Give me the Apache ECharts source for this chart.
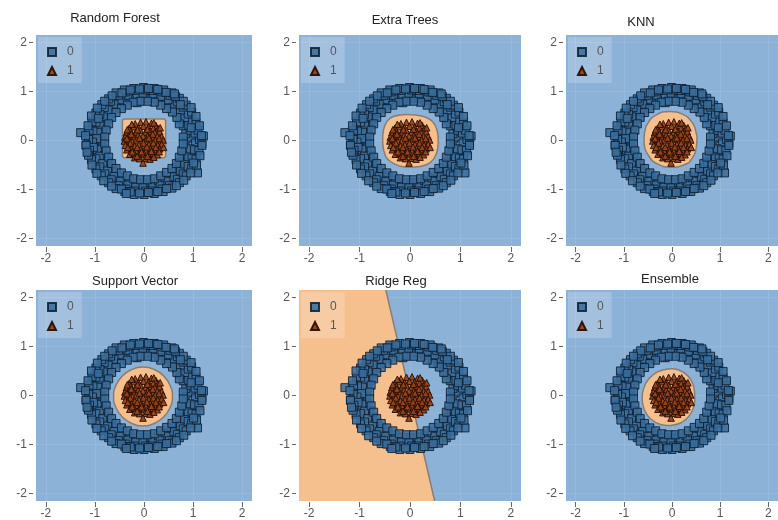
<!DOCTYPE html>
<html>
<head>
<meta charset="utf-8">
<script src="https://cdn.jsdelivr.net/npm/echarts@6/dist/echarts.min.js"></script>
<style>
html, body { margin: 0; padding: 0; background: #fff; }
#chart { width: 778px; height: 520px; }
</style>
</head>
<body>
<div id="chart"></div>
<script>
// panel titles, in grid order
var titles = ['Random Forest', 'Extra Trees', 'KNN', 'Support Vector', 'Ridge Reg', 'Ensemble'];
var tickValues = [-2, -1, 0, 1, 2];
var classNames = ['0', '1'];

// outer ring (class 0)
var class0 = [
  [0.86,0.03],[0.96,0.07],[1.05,-0.05],[1.13,0.02],[1.18,-0.06],[1.21,0.09],
  [0.85,0.14],[0.94,0.20],[1.04,0.15],[1.10,0.21],
  [0.80,0.30],[0.91,0.31],[0.98,0.38],[1.06,0.36],
  [0.74,0.44],[0.83,0.47],[0.90,0.54],[0.97,0.58],
  [0.66,0.56],[0.74,0.62],[0.80,0.68],[0.86,0.72],
  [0.55,0.65],[0.60,0.74],[0.68,0.79],[0.72,0.86],
  [0.44,0.76],[0.49,0.83],[0.53,0.92],[0.57,0.97],
  [0.29,0.82],[0.34,0.90],[0.37,0.99],[0.40,1.03],
  [0.14,0.86],[0.18,0.95],[0.17,1.02],[0.21,1.06],
  [0.02,0.85],[-0.03,0.96],[0.03,1.03],[-0.01,1.08],
  [-0.14,0.77],[-0.18,0.94],[-0.17,1.02],[-0.21,1.06],
  [-0.30,0.83],[-0.33,0.92],[-0.37,0.99],[-0.40,1.03],
  [-0.43,0.76],[-0.49,0.83],[-0.52,0.92],[-0.57,0.97],
  [-0.56,0.66],[-0.61,0.74],[-0.68,0.80],[-0.72,0.85],
  [-0.66,0.55],[-0.73,0.62],[-0.81,0.67],[-0.86,0.73],
  [-0.75,0.43],[-0.83,0.48],[-0.90,0.53],[-0.98,0.56],
  [-0.81,0.29],[-0.90,0.33],[-0.98,0.37],[-1.06,0.38],
  [-0.85,0.15],[-0.94,0.17],[-1.04,0.19],[-1.12,0.21],[-1.29,0.16],
  [-0.86,-0.02],[-0.96,0.04],[-1.05,-0.03],[-1.13,0.02],[-1.18,-0.09],
  [-0.85,-0.15],[-0.95,-0.18],[-1.03,-0.14],[-1.11,-0.20],
  [-0.80,-0.30],[-0.90,-0.32],[-0.98,-0.37],[-1.07,-0.39],
  [-0.74,-0.43],[-0.84,-0.47],[-0.90,-0.54],[-0.98,-0.58],
  [-0.65,-0.56],[-0.74,-0.62],[-0.80,-0.68],[-0.87,-0.72],
  [-0.55,-0.66],[-0.61,-0.73],[-0.67,-0.80],[-0.72,-0.86],
  [-0.43,-0.75],[-0.48,-0.83],[-0.52,-0.92],[-0.57,-0.98],
  [-0.29,-0.81],[-0.33,-0.91],[-0.37,-0.99],[-0.39,-1.04],
  [-0.15,-0.85],[-0.17,-0.95],[-0.19,-1.03],[-0.20,-1.10],
  [0.02,-0.86],[-0.02,-0.96],[0.03,-1.03],[0.00,-1.10],
  [0.14,-0.85],[0.18,-0.94],[0.17,-1.03],[0.21,-1.08],
  [0.29,-0.82],[0.33,-0.91],[0.37,-0.99],[0.39,-1.04],
  [0.43,-0.76],[0.49,-0.83],[0.52,-0.92],[0.57,-0.97],
  [0.56,-0.66],[0.61,-0.74],[0.68,-0.79],[0.72,-0.86],
  [0.66,-0.55],[0.74,-0.62],[0.80,-0.68],[0.86,-0.72],
  [0.74,-0.44],[0.83,-0.48],[0.90,-0.53],[0.97,-0.57],[1.09,-0.66],
  [0.81,-0.29],[0.90,-0.33],[0.98,-0.36],[1.06,-0.38],
  [0.85,-0.15],[0.94,-0.17],[1.03,-0.19],[1.12,-0.20],
  [0.80,0.07],[1.17,0.10],[0.96,0.26],[1.13,0.30],[0.72,0.34],[1.06,0.49],
  [0.67,0.47],[0.96,0.67],[0.58,0.58],[0.80,0.80],[0.46,0.65],[0.64,0.90],
  [0.34,0.72],[0.45,0.98],[0.21,0.78],[0.28,1.04],[0.07,0.80],[0.09,1.06],
  [-0.08,0.80],[-0.09,1.05],[-0.22,0.78],[-0.28,1.03],[-0.34,0.72],[-0.45,0.97],
  [-0.46,0.65],[-0.65,0.91],[-0.57,0.57],[-0.80,0.80],[-0.66,0.47],[-0.95,0.66],
  [-0.72,0.34],[-1.07,0.50],[-0.77,0.21],[-1.14,0.30],[-0.80,0.07],[-1.19,0.10],
  [-0.80,-0.07],[-1.18,-0.10],[-0.77,-0.21],[-1.13,-0.30],[-0.72,-0.34],[-1.06,-0.50],
  [-0.66,-0.47],[-0.96,-0.67],[-0.57,-0.57],[-0.82,-0.82],[-0.46,-0.66],[-0.66,-0.93],
  [-0.34,-0.72],[-0.46,-0.99],[-0.21,-0.78],[-0.28,-1.05],[-0.07,-0.80],[-0.09,-1.07],
  [0.07,-0.80],[0.09,-1.06],[0.21,-0.78],[0.28,-1.04],[0.34,-0.72],[0.46,-0.98],
  [0.46,-0.65],[0.66,-0.92],[0.57,-0.57],[0.81,-0.81],[0.66,-0.47],[0.95,-0.66],
  [0.72,-0.34],[1.07,-0.50],[0.77,-0.21],[1.14,-0.31],[0.80,-0.07],[1.18,-0.10],
  [0.62,0.95],[-0.93,0.45],[1.01,-0.46],[-0.36,-1.08],[0.74,0.73],[-1.16,-0.24]
];

// inner cluster (class 1)
var class1 = [
  [-0.18,0.34],[-0.07,0.37],[0.04,0.38],[0.15,0.35],[0.24,0.31],
  [-0.30,0.25],[-0.21,0.28],[-0.11,0.26],[-0.01,0.29],[0.09,0.27],[0.19,0.25],[0.29,0.24],
  [-0.36,0.16],[-0.27,0.19],[-0.17,0.17],[-0.07,0.20],[0.03,0.17],[0.12,0.19],[0.22,0.16],[0.32,0.18],
  [-0.39,0.07],[-0.30,0.10],[-0.21,0.08],[-0.12,0.11],[-0.02,0.09],[0.08,0.10],[0.17,0.07],[0.27,0.09],[0.36,0.08],
  [-0.40,-0.01],[-0.32,0.02],[-0.24,-0.02],[-0.15,0.01],[-0.05,-0.01],[0.05,0.02],[0.14,-0.01],[0.23,0.01],[0.32,-0.02],[0.39,0.01],
  [-0.38,-0.10],[-0.29,-0.08],[-0.19,-0.11],[-0.10,-0.08],[0.00,-0.10],[0.10,-0.08],[0.19,-0.11],[0.28,-0.09],[0.36,-0.07],
  [-0.35,-0.19],[-0.25,-0.17],[-0.16,-0.20],[-0.06,-0.17],[0.04,-0.19],[0.13,-0.16],[0.23,-0.19],[0.32,-0.17],
  [-0.29,-0.28],[-0.20,-0.26],[-0.10,-0.29],[0.00,-0.27],[0.10,-0.28],[0.19,-0.26],[0.27,-0.29],
  [-0.19,-0.35],[-0.09,-0.37],[0.02,-0.36],[0.12,-0.38],[0.20,-0.34],
  [-0.25,0.33],[0.20,0.36],[-0.34,0.22],[0.33,0.26],[-0.13,0.22],[0.07,0.23],[-0.26,0.13],[0.18,0.13],
  [-0.35,0.04],[-0.09,0.05],[0.10,0.05],[0.31,0.04],[-0.28,-0.05],[-0.01,-0.05],[0.19,-0.05],
  [-0.33,-0.14],[-0.14,-0.14],[0.06,-0.13],[0.24,-0.14],[-0.24,-0.23],[-0.05,-0.23],[0.15,-0.22],
  [0.31,-0.23],[-0.14,-0.32],[0.07,-0.32],[-0.02,-0.46],[0.40,-0.14]
];

// class-1 decision regions (boundary vertices)
var rfRegion = [[-0.44,0.41],[-0.41,0.44],[0.41,0.44],[0.44,0.41],[0.44,-0.32],[0.41,-0.35],[0.05,-0.35],
  [0.03,-0.49],[-0.04,-0.49],[-0.06,-0.35],[-0.41,-0.35],[-0.44,-0.32]];
var etRegion = [[-0.50,0.30],[-0.40,0.45],[-0.20,0.52],[0.10,0.52],[0.30,0.48],[0.45,0.38],[0.54,0.20],
  [0.56,-0.05],[0.52,-0.28],[0.40,-0.45],[0.20,-0.53],[-0.10,-0.54],[-0.30,-0.48],[-0.46,-0.36],[-0.53,-0.15],[-0.54,0.10]];
var knnRegion = [[-0.42,0.46],[-0.20,0.58],[0.10,0.58],[0.32,0.48],[0.46,0.30],[0.52,0.05],[0.48,-0.25],
  [0.35,-0.45],[0.10,-0.54],[-0.18,-0.53],[-0.40,-0.42],[-0.55,-0.20],[-0.58,0.05],[-0.54,0.28]];
var svmRegion = [[0.58,-0.02],[0.53,0.21],[0.40,0.40],[0.21,0.53],[-0.02,0.58],[-0.25,0.53],[-0.44,0.40],
  [-0.57,0.21],[-0.62,-0.02],[-0.57,-0.25],[-0.44,-0.44],[-0.25,-0.57],[-0.02,-0.62],[0.21,-0.57],[0.40,-0.44],[0.53,-0.25]];
var ridgeRegion = [[-3,3],[-0.67,3],[0.68,-3],[-3,-3]];
var ensRegion = [[0.47,0.02],[0.44,0.22],[0.33,0.40],[0.14,0.52],[-0.08,0.54],[-0.30,0.48],[-0.48,0.34],
  [-0.59,0.14],[-0.62,-0.08],[-0.57,-0.30],[-0.44,-0.48],[-0.24,-0.59],[-0.02,-0.61],[0.20,-0.55],[0.36,-0.41],[0.46,-0.20]];
var regions = [rfRegion, etRegion, knnRegion, svmRegion, ridgeRegion, ensRegion];
var regionSmooth = [0, 0.3, 0.2, 0.5, 0, 0.4];

// layout
var cols = [{ left: 36, width: 216 }, { left: 299, width: 222 }, { left: 566, width: 226 }];
var rows = [{ top: 35, height: 211 }, { top: 290, height: 211 }];
var titlePos = [[115, 18], [405, 20], [641, 22], [135, 281], [396, 281], [670, 279]];

var blue = '#8cb2d8';
var orange = '#f6c08e';
var labelColor = '#555';

var chart = echarts.init(document.getElementById('chart'));

var grids = [], xAxes = [], yAxes = [], series = [], legends = [], graphics = [];

for (var i = 0; i < 6; i++) {
  var c = cols[i % 3], r = rows[Math.floor(i / 3)];
  grids.push({
    left: c.left, top: r.top, width: c.width, height: r.height,
    show: true, backgroundColor: blue, borderWidth: 0
  });
  xAxes.push({
    gridIndex: i, type: 'value', min: -2.2, max: 2.2, offset: 1, position: 'bottom',
    axisLine: { show: false, onZero: false },
    axisTick: { show: true, length: 5, customValues: tickValues, lineStyle: { color: '#666' } },
    axisLabel: { customValues: tickValues, margin: 6, fontSize: 12, color: labelColor, fontFamily: 'Liberation Sans' },
    splitLine: { show: true, lineStyle: { color: 'rgba(255,255,255,0.1)', width: 1 } }
  });
  yAxes.push({
    gridIndex: i, type: 'value', min: -2.15, max: 2.15, offset: 3, position: 'left',
    axisLine: { show: false, onZero: false },
    axisTick: { show: true, length: 4, customValues: tickValues, lineStyle: { color: '#666' } },
    axisLabel: { customValues: tickValues, margin: 6, fontSize: 12, color: labelColor, fontFamily: 'Liberation Sans' },
    splitLine: { show: true, lineStyle: { color: 'rgba(255,255,255,0.1)', width: 1 } }
  });

  (function (pts, smooth, idx) {
    series.push({
      type: 'custom', xAxisIndex: idx, yAxisIndex: idx, silent: true, clip: true, z: 1,
      data: [[0, 0]],
      renderItem: function (params, api) {
        return {
          type: 'polygon',
          shape: { points: pts.map(function (p) { return api.coord(p); }), smooth: smooth },
          style: { fill: orange, stroke: '#8a7d70', lineWidth: 1.5 }
        };
      }
    });
  })(regions[i], regionSmooth[i], i);

  series.push({
    name: classNames[0], type: 'scatter', xAxisIndex: i, yAxisIndex: i, z: 2,
    symbol: 'rect', symbolSize: 8, data: class0,
    itemStyle: { color: '#3a6c9a', borderColor: '#0e2033', borderWidth: 1, opacity: 0.88 }
  });
  series.push({
    name: classNames[1], type: 'scatter', xAxisIndex: i, yAxisIndex: i, z: 3,
    symbol: 'triangle', symbolSize: 6.5, data: class1,
    itemStyle: { color: '#97431a', borderColor: '#2a0f04', borderWidth: 1, opacity: 0.95 }
  });

  legends.push({
    data: classNames, orient: 'vertical', left: c.left + 2, top: r.top + 2,
    itemWidth: 8, itemHeight: 8, itemGap: 7, selectedMode: false,
    backgroundColor: 'rgba(255,255,255,0.2)', padding: [9, 8, 6, 9],
    textStyle: { fontSize: 12, color: labelColor, fontFamily: 'Liberation Sans', padding: [0, 0, 0, 6] }
  });

  graphics.push({
    type: 'text', x: titlePos[i][0], y: titlePos[i][1],
    style: { text: titles[i], fontSize: 13, fontFamily: 'Liberation Sans', fill: '#222',
      textAlign: 'center', textVerticalAlign: 'middle' }
  });
}

chart.setOption({
  animation: false,
  backgroundColor: '#fff',
  grid: grids,
  xAxis: xAxes,
  yAxis: yAxes,
  legend: legends,
  graphic: graphics,
  series: series
});
</script>
</body>
</html>
